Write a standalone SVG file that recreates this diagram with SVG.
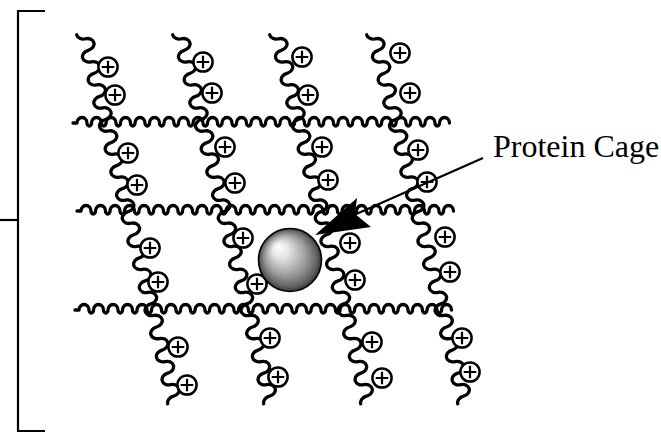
<svg xmlns="http://www.w3.org/2000/svg" xmlns:xlink="http://www.w3.org/1999/xlink" width="661" height="433" viewBox="0 0 661 433">
  <style>
    .line { fill: none; stroke: #000; stroke-width: 2.2; }
    .wave { fill: none; stroke: #000; stroke-width: 3.3; stroke-linecap: round; stroke-linejoin: round; }
    .label { font-family: "Liberation Serif", "Times New Roman", serif; font-size: 32px; fill: #000; }
  </style>
  <defs>
    <!-- horizontal polymer strand: wide arches joined by narrow dips, period 14.5 -->
    <path id="strand" d="M-4,0 h4
      a5,5.5 0 0 1 10,0 a2.25,3 0 0 0 4.5,0 a5,5.5 0 0 1 10,0 a2.25,3 0 0 0 4.5,0
      a5,5.5 0 0 1 10,0 a2.25,3 0 0 0 4.5,0 a5,5.5 0 0 1 10,0 a2.25,3 0 0 0 4.5,0
      a5,5.5 0 0 1 10,0 a2.25,3 0 0 0 4.5,0 a5,5.5 0 0 1 10,0 a2.25,3 0 0 0 4.5,0
      a5,5.5 0 0 1 10,0 a2.25,3 0 0 0 4.5,0 a5,5.5 0 0 1 10,0 a2.25,3 0 0 0 4.5,0
      a5,5.5 0 0 1 10,0 a2.25,3 0 0 0 4.5,0 a5,5.5 0 0 1 10,0 a2.25,3 0 0 0 4.5,0
      a5,5.5 0 0 1 10,0 a2.25,3 0 0 0 4.5,0 a5,5.5 0 0 1 10,0 a2.25,3 0 0 0 4.5,0
      a5,5.5 0 0 1 10,0 a2.25,3 0 0 0 4.5,0 a5,5.5 0 0 1 10,0 a2.25,3 0 0 0 4.5,0
      a5,5.5 0 0 1 10,0 a2.25,3 0 0 0 4.5,0 a5,5.5 0 0 1 10,0 a2.25,3 0 0 0 4.5,0
      a5,5.5 0 0 1 10,0 a2.25,3 0 0 0 4.5,0 a5,5.5 0 0 1 10,0 a2.25,3 0 0 0 4.5,0
      a5,5.5 0 0 1 10,0 a2.25,3 0 0 0 4.5,0 a5,5.5 0 0 1 10,0 a2.25,3 0 0 0 4.5,0
      a5,5.5 0 0 1 10,0 a2.25,3 0 0 0 4.5,0 a5,5.5 0 0 1 10,0 a2.25,3 0 0 0 4.5,0
      a5,5.5 0 0 1 10,0 a2.25,3 0 0 0 4.5,0 a5,5.5 0 0 1 10,0 a2.25,3 0 0 0 4.5,0
      a5,5.5 0 0 1 10,0 a2.25,3 0 0 0 4.5,0 a5,5.5 0 0 1 10,0"/>
    <!-- cross-linking chain: wiggle along +y, starting and ending at the left extreme -->
    <path id="chain" d="M-7.5,0 a7.5,5.94 0 0 0 7.5,5.9375
      a7.5,5.94 0 0 1 0,11.875 a7.5,5.94 0 0 0 0,11.875 a7.5,5.94 0 0 1 0,11.875 a7.5,5.94 0 0 0 0,11.875
      a7.5,5.94 0 0 1 0,11.875 a7.5,5.94 0 0 0 0,11.875 a7.5,5.94 0 0 1 0,11.875 a7.5,5.94 0 0 0 0,11.875
      a7.5,5.94 0 0 1 0,11.875 a7.5,5.94 0 0 0 0,11.875 a7.5,5.94 0 0 1 0,11.875 a7.5,5.94 0 0 0 0,11.875
      a7.5,5.94 0 0 1 0,11.875 a7.5,5.94 0 0 0 0,11.875 a7.5,5.94 0 0 1 0,11.875 a7.5,5.94 0 0 0 0,11.875
      a7.5,5.94 0 0 1 0,11.875 a7.5,5.94 0 0 0 0,11.875 a7.5,5.94 0 0 1 0,11.875 a7.5,5.94 0 0 0 0,11.875
      a7.5,5.94 0 0 1 0,11.875 a7.5,5.94 0 0 0 0,11.875 a7.5,5.94 0 0 1 0,11.875 a7.5,5.94 0 0 0 0,11.875
      a7.5,5.94 0 0 1 0,11.875 a7.5,5.94 0 0 0 0,11.875 a7.5,5.94 0 0 1 0,11.875 a7.5,5.94 0 0 0 0,11.875
      a7.5,5.94 0 0 1 0,11.875 a7.5,5.94 0 0 0 0,11.875 a7.5,5.94 0 0 1 0,11.875
      a7.5,5.94 0 0 0 -7.5,5.9375"/>
    <!-- positive charge -->
    <g id="plus">
      <circle r="9.6" fill="#fff" stroke="#000" stroke-width="2.5"/>
      <path d="M-6.3,0H6.3M0,-6.3V6.3" stroke="#000" stroke-width="2.2"/>
    </g>
    <radialGradient id="sphereShade" cx="0.5" cy="0.5" r="0.5" fx="0.3" fy="0.28">
      <stop offset="0" stop-color="#ffffff"/>
      <stop offset="0.25" stop-color="#e6e6e6"/>
      <stop offset="0.65" stop-color="#9c9c9c"/>
      <stop offset="0.9" stop-color="#606060"/>
      <stop offset="1" stop-color="#333333"/>
    </radialGradient>
  </defs>

  <!-- outer bracket -->
  <g id="bracket">
    <path class="line" d="M45,11 H18 V431 H45"/>
    <path class="line" d="M0,220 H18"/>
  </g>

  <!-- horizontal strands -->
  <g id="strands">
    <use xlink:href="#strand" class="wave" transform="translate(77,123)"/>
    <use xlink:href="#strand" class="wave" transform="translate(81,211)"/>
    <use xlink:href="#strand" class="wave" transform="translate(79,310)"/>
  </g>

  <!-- charged cross-linking chains, one per column -->
  <g id="chain-a">
    <use xlink:href="#chain" class="wave" transform="translate(84,33) rotate(-13.85)"/>
    <use xlink:href="#plus" x="108" y="67"/>
    <use xlink:href="#plus" x="115" y="95"/>
    <use xlink:href="#plus" x="128" y="153"/>
    <use xlink:href="#plus" x="137" y="185"/>
    <use xlink:href="#plus" x="150" y="248"/>
    <use xlink:href="#plus" x="158" y="282"/>
    <use xlink:href="#plus" x="178" y="347"/>
    <use xlink:href="#plus" x="187" y="385"/>
  </g>
  <g id="chain-b">
    <use xlink:href="#chain" class="wave" transform="translate(180,33) rotate(-13.85)"/>
    <use xlink:href="#plus" x="203" y="62"/>
    <use xlink:href="#plus" x="212" y="93"/>
    <use xlink:href="#plus" x="225" y="147"/>
    <use xlink:href="#plus" x="235" y="183"/>
    <use xlink:href="#plus" x="243" y="238"/>
    <use xlink:href="#plus" x="257" y="284"/>
    <use xlink:href="#plus" x="270" y="338"/>
    <use xlink:href="#plus" x="278" y="377"/>
  </g>
  <g id="chain-c">
    <use xlink:href="#chain" class="wave" transform="translate(277,33) rotate(-13.85)"/>
    <use xlink:href="#plus" x="302" y="57"/>
    <use xlink:href="#plus" x="308" y="95"/>
    <use xlink:href="#plus" x="322" y="147"/>
    <use xlink:href="#plus" x="328" y="180"/>
    <use xlink:href="#plus" x="350" y="243"/>
    <use xlink:href="#plus" x="355" y="280"/>
    <use xlink:href="#plus" x="372" y="342"/>
    <use xlink:href="#plus" x="382" y="378"/>
  </g>
  <g id="chain-d">
    <use xlink:href="#chain" class="wave" transform="translate(374,33) rotate(-13.85)"/>
    <use xlink:href="#plus" x="400" y="53"/>
    <use xlink:href="#plus" x="410" y="93"/>
    <use xlink:href="#plus" x="418" y="150"/>
    <use xlink:href="#plus" x="427" y="182"/>
    <use xlink:href="#plus" x="445" y="237"/>
    <use xlink:href="#plus" x="450" y="272"/>
    <use xlink:href="#plus" x="462" y="338"/>
    <use xlink:href="#plus" x="470" y="372"/>
  </g>

  <!-- encapsulated protein cage -->
  <g id="protein-cage">
    <circle cx="290" cy="260" r="31.5" fill="url(#sphereShade)" stroke="#000" stroke-width="1.6"/>
  </g>

  <!-- callout -->
  <g id="callout">
    <path class="line" d="M483,158 L345,219"/>
    <polygon points="315,235 357,198 355,214 371,227" fill="#000"/>
    <text class="label" x="493" y="157">Protein Cage</text>
  </g>
</svg>
